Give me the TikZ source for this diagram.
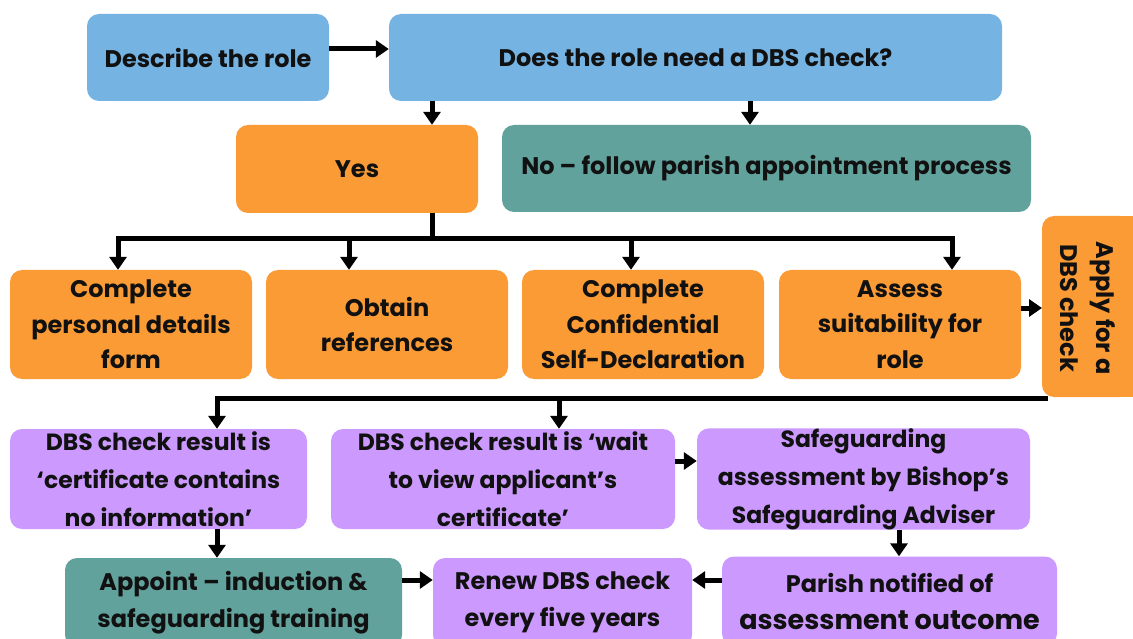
\documentclass[tikz,border=0pt]{standalone}
\usepackage{fontspec}
\setmainfont{Poppins}
\usetikzlibrary{arrows.meta}
\definecolor{cblue}{HTML}{74B3E2}
\definecolor{corange}{HTML}{FB9B36}
\definecolor{cteal}{HTML}{62A29D}
\definecolor{cpurple}{HTML}{CC99FF}
\definecolor{ctext}{HTML}{111111}
\tikzset{
  box/.style={rounded corners=12pt, inner sep=0pt, align=center, text=ctext,
    font=\bfseries\fontsize{24}{37}\selectfont},
  bluebox/.style={box, fill=cblue},
  orangebox/.style={box, fill=corange},
  tealbox/.style={box, fill=cteal},
  purplebox/.style={box, fill=cpurple},
  conn/.style={line width=5pt, draw=black},
  arr/.style={conn, -{Triangle[width=17pt,length=13pt]}},
}
\begin{document}
\begin{tikzpicture}[x=1pt,y=-1pt]
\useasboundingbox (0,0) rectangle (1133,639);
\fill[white] (0,0) rectangle (1133,639);
% row 1
\node[bluebox, minimum width=242pt, minimum height=87pt] (describe) at (208,57.5) {Describe the role};
\node[bluebox, minimum width=613pt, minimum height=87pt] (does) at (695.5,57.5) {Does the role need a DBS check?};
% row 2
\node[orangebox, minimum width=242pt, minimum height=88pt] (yes) at (357,169) {Yes};
\node[tealbox, minimum width=529pt, minimum height=87pt] (no) at (766.5,168.5) {No -- follow parish appointment process};
% row 3
\tikzset{r3/.style={orangebox, minimum width=242pt, minimum height=109pt, font=\bfseries\fontsize{24}{35.5}\selectfont}}
\node[r3] (form) at (131,324.5) {Complete\\personal details\\form};
\node[r3] (refs) at (387,324.5) {Obtain\\references};
\node[r3] (decl) at (643,324.5) {Complete\\Confidential\\Self-Declaration};
\node[r3] (assess) at (900,324.5) {Assess\\suitability for\\role};
% apply box
\fill[corange] (1100,216) rectangle (1145,397);
\node[orangebox, minimum width=90pt, minimum height=181pt] (applybox) at (1087,306.5) {};
\node[rotate=-90, align=center, text=ctext, inner sep=0pt, font=\bfseries\fontsize{24}{36}\selectfont] (apply) at (1088,308) {Apply for a\\DBS check};
\coordinate (applyL) at (1042,308);
\coordinate (applyB) at (1048,398);
% row 4
\tikzset{r4/.style={purplebox, minimum height=100pt, font=\bfseries\fontsize{23.5}{38}\selectfont}}
\node[r4, minimum width=297pt] (res1) at (158.5,479) {DBS check result is\\‘certificate contains\\no information’};
\node[r4, minimum width=344pt] (res2) at (503,479) {DBS check result is ‘wait\\to view applicant’s\\certificate’};
\node[r4, minimum width=333pt] (safe) at (863.5,479) {Safeguarding\\assessment by Bishop’s\\Safeguarding Adviser};
% row 5
\tikzset{r5/.style={minimum height=89pt, font=\bfseries\fontsize{24}{37}\selectfont}}
\node[tealbox, r5, minimum width=337pt] (appoint) at (233.5,602.5) {Appoint -- induction \&\\safeguarding training};
\node[purplebox, r5, minimum width=259pt] (renew) at (562.5,602.5) {Renew DBS check\\every five years};
\node[purplebox, r5, minimum width=335pt] (parish) at (889.5,601) {Parish notified of\\{\fontsize{27}{36}\selectfont assessment outcome}};
% connectors
\draw[arr] ([yshift=8.5pt]describe.east) -- ([yshift=8.5pt]does.west);
\draw[arr] (does.south -| 432,0) -- (yes.north -| 432,0);
\draw[arr] (does.south -| 750,0) -- (no.north -| 750,0);
\coordinate (split) at (432,239);
\draw[conn] (yes.south -| split) -- (split);
\draw[arr] (split) -| (form.north -| 118,0);
\draw[arr] (split) -| (refs.north -| 349,0);
\draw[arr] (split) -| (decl.north -| 631,0);
\draw[arr] (split) -| (assess.north -| 952,0);
\draw[arr] (assess.east |- applyL) -- (applyL);
\draw[arr] (applyB) -| (res1.north -| 217,0);
\draw[arr] (applyB) -| (res2.north -| 559,0);
\draw[arr] (res2.east |- 0,461) -- (safe.west |- 0,461);
\draw[arr] (res1.south -| 217,0) -- (appoint.north -| 217,0);
\draw[arr] (safe.south -| 899,0) -- (parish.north -| 899,0);
\draw[arr] (appoint.east |- 0,580) -- (renew.west |- 0,580);
\draw[arr] (parish.west |- 0,580) -- (renew.east |- 0,580);
\end{tikzpicture}
\end{document}
